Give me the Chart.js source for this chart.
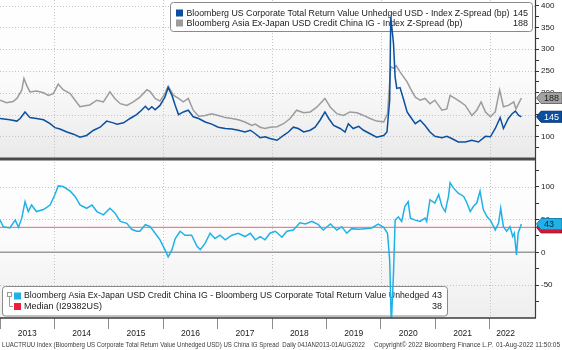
<!DOCTYPE html>
<html><head><meta charset="utf-8">
<script src="https://cdn.jsdelivr.net/npm/chart.js@4/dist/chart.umd.min.js"></script>
<style>html,body{margin:0;padding:0;background:#fff;}#wrap{width:562px;height:350px;position:relative;}</style>
</head><body><div id="wrap"><canvas id="c" width="562" height="350"></canvas></div>
<script>
// ---- data (decimal years) ----
const usDates = [2013.00,2013.18,2013.31,2013.37,2013.46,2013.55,2013.67,2013.80,2013.92,2014.01,2014.10,2014.23,2014.35,2014.47,2014.59,2014.72,2014.84,2014.96,2015.08,2015.15,2015.27,2015.39,2015.51,2015.60,2015.67,2015.73,2015.79,2015.85,2015.94,2016.03,2016.09,2016.16,2016.22,2016.28,2016.37,2016.46,2016.55,2016.65,2016.77,2016.89,2017.01,2017.14,2017.26,2017.38,2017.50,2017.60,2017.69,2017.78,2017.87,2017.96,2018.09,2018.21,2018.30,2018.39,2018.48,2018.58,2018.70,2018.79,2018.88,2018.97,2019.04,2019.13,2019.25,2019.34,2019.40,2019.49,2019.59,2019.68,2019.80,2019.92,2020.05,2020.11,2020.16,2020.18,2020.23,2020.26,2020.29,2020.35,2020.41,2020.48,2020.54,2020.63,2020.72,2020.81,2020.90,2020.99,2021.12,2021.21,2021.30,2021.42,2021.55,2021.67,2021.79,2021.92,2022.01,2022.10,2022.19,2022.25,2022.34,2022.41,2022.47,2022.53,2022.58];
const usSpread = [141,138,135,141,156,143,141,138,129,120,117,110,105,98,102,114,121,135,131,128,131,141,150,160,169,161,168,161,171,190,212,194,171,150,156,160,145,141,133,128,121,118,117,114,110,114,106,97,99,95,91,102,110,121,118,110,114,121,137,156,141,125,118,110,129,118,123,114,106,98,102,110,183,375,313,236,210,212,187,156,145,129,137,125,110,100,97,100,95,87,87,91,87,100,99,118,143,118,141,152,158,148,145];

const asiaDates = [2013.00,2013.12,2013.24,2013.31,2013.40,2013.44,2013.49,2013.55,2013.67,2013.80,2013.89,2013.98,2014.07,2014.16,2014.29,2014.38,2014.47,2014.56,2014.65,2014.78,2014.90,2015.02,2015.11,2015.21,2015.33,2015.45,2015.57,2015.70,2015.76,2015.85,2015.94,2016.03,2016.09,2016.19,2016.28,2016.37,2016.46,2016.55,2016.65,2016.77,2016.89,2017.01,2017.14,2017.26,2017.38,2017.50,2017.63,2017.69,2017.78,2017.87,2017.96,2018.09,2018.21,2018.33,2018.45,2018.58,2018.70,2018.82,2018.91,2018.97,2019.07,2019.19,2019.31,2019.43,2019.56,2019.68,2019.80,2019.92,2020.05,2020.12,2020.18,2020.23,2020.28,2020.35,2020.48,2020.54,2020.63,2020.72,2020.81,2020.90,2020.99,2021.12,2021.21,2021.27,2021.36,2021.46,2021.55,2021.67,2021.76,2021.84,2021.92,2022.01,2022.10,2022.18,2022.25,2022.34,2022.44,2022.48,2022.58];
const asiaSpread = [183,177,180,187,206,233,217,202,204,200,194,198,220,207,198,183,168,170,172,183,179,202,187,175,171,179,190,207,203,187,181,198,215,194,187,179,187,160,146,148,152,148,143,141,138,133,125,128,121,118,121,122,129,141,160,154,156,167,179,187,167,152,148,156,154,148,141,135,133,152,260,256,262,248,225,210,190,183,187,175,183,160,163,194,187,179,171,148,160,179,156,145,156,206,168,171,179,163,188];

const diffDates = [2013.00,2013.06,2013.18,2013.28,2013.34,2013.40,2013.46,2013.52,2013.58,2013.67,2013.80,2013.92,2014.01,2014.07,2014.16,2014.29,2014.38,2014.47,2014.59,2014.69,2014.78,2014.90,2015.02,2015.11,2015.21,2015.33,2015.42,2015.51,2015.57,2015.67,2015.76,2015.85,2015.94,2016.03,2016.09,2016.16,2016.22,2016.31,2016.40,2016.52,2016.62,2016.68,2016.77,2016.86,2016.95,2017.04,2017.14,2017.26,2017.38,2017.50,2017.60,2017.69,2017.78,2017.87,2017.96,2018.06,2018.18,2018.27,2018.39,2018.51,2018.61,2018.73,2018.85,2018.94,2019.07,2019.19,2019.28,2019.37,2019.46,2019.59,2019.71,2019.83,2019.95,2020.05,2020.12,2020.16,2020.19,2020.23,2020.26,2020.32,2020.38,2020.44,2020.50,2020.54,2020.63,2020.72,2020.81,2020.84,2020.90,2020.99,2021.06,2021.12,2021.18,2021.24,2021.27,2021.33,2021.42,2021.52,2021.58,2021.64,2021.70,2021.76,2021.82,2021.88,2021.95,2022.01,2022.10,2022.16,2022.20,2022.25,2022.31,2022.37,2022.42,2022.45,2022.49,2022.52,2022.58];
const diffSpread = [49,39,37,49,38,52,77,62,72,62,65,72,88,101,100,93,85,72,67,72,62,57,67,60,47,44,35,32,32,42,39,29,19,4,-7,4,21,32,26,26,9,4,14,29,21,26,19,26,29,24,29,19,24,19,29,32,23,32,34,45,43,47,42,34,43,34,39,29,36,35,36,37,43,38,29,-12,-110,-32,49,54,47,70,77,52,49,47,52,47,80,75,88,70,62,85,106,98,90,85,75,62,70,75,93,65,54,49,34,44,67,39,32,39,24,29,-4,29,43];

const medianValue = 38;
const years = [2013,2014,2015,2016,2017,2018,2019,2020,2021,2022];
const yearLabels = ['2013','2014','2015','2016','2017','2018','2019','2020','2021','2022'];
const topTickValues = [75,100,125,150,175,200,225,250,275,300,325,350,375,400];
const bottomTickValues = [-75,-50,-25,0,25,50,75,100,125];
const topRange = [48, 413];
const bottomRange = [-100, 142];
const xRange = [2013.0, 2022.83];

const seriesNames = [
  'Bloomberg US Corporate Total Return Value Unhedged USD - Index Z-Spread (bp)',
  'Bloomberg Asia Ex-Japan USD Credit China IG - Index Z-Spread (bp)',
  'Bloomberg Asia Ex-Japan USD Credit China IG - Bloomberg US Corporate Total Return Value Unhedged',
  'Median (I29382US)'
];
const footerTexts = [
  'LUACTRUU Index (Bloomberg US Corporate Total Return Value Unhedged USD) US China IG Spread  Daily 04JAN2013-01AUG2022',
  'Copyright\u00A9 2022 Bloomberg Finance L.P.',
  '01-Aug-2022 11:50:05'
];

const C_US = '#0b4f9f', C_ASIA = '#9c9c9c', C_DIFF = '#1fb2e8', C_MED = '#ee1d3f';
const FONT = '"Liberation Sans", Arial, sans-serif';

const pts = (xs, ys) => xs.map((x, i) => ({x, y: ys[i]}));

const lastDate = usDates[usDates.length - 1];
const labelPos = years.map(y => (Math.max(y, xRange[0]) + Math.min(y + 1, lastDate)) / 2);

function roundRect(ctx, x, y, w, h, r) {
  ctx.beginPath();
  ctx.moveTo(x + r, y);
  ctx.arcTo(x + w, y, x + w, y + h, r);
  ctx.arcTo(x + w, y + h, x, y + h, r);
  ctx.arcTo(x, y + h, x, y, r);
  ctx.arcTo(x, y, x + w, y, r);
  ctx.closePath();
}

function tag(ctx, xr, y, text, fill, stroke, color) {
  const x0 = xr + 1.5, x1 = xr + 6, x2 = 562, h = 5.5;
  ctx.beginPath();
  ctx.moveTo(x0, y); ctx.lineTo(x1, y - h); ctx.lineTo(x2, y - h); ctx.lineTo(x2, y + h); ctx.lineTo(x1, y + h); ctx.closePath();
  ctx.fillStyle = fill; ctx.fill();
  ctx.lineWidth = 1; ctx.strokeStyle = stroke; ctx.stroke();
  ctx.fillStyle = color; ctx.font = '9px ' + FONT; ctx.textAlign = 'left'; ctx.textBaseline = 'middle';
  ctx.fillText(text, x1 + 3, y + 0.5);
}

const bbg = {
  id: 'bbg',
  beforeDraw(chart) {
    const {ctx, chartArea: a, scales} = chart;
    ctx.save();
    ctx.fillStyle = '#fff'; ctx.fillRect(0, 0, chart.width, chart.height);
    [[scales.y, '#e9e9e9'], [scales.y2, '#eeeeee']].forEach(([s, c]) => {
      const g = ctx.createLinearGradient(0, s.top, 0, s.bottom);
      g.addColorStop(0, '#ffffff'); g.addColorStop(0.5, '#fbfbfb'); g.addColorStop(1, c);
      ctx.fillStyle = g; ctx.fillRect(a.left, s.top, a.right - a.left, s.bottom - s.top);
    });
    ctx.restore();
  },
  beforeDatasetsDraw(chart) {
    const {ctx, chartArea: a, scales} = chart;
    const x = scales.x, yT = scales.y, yB = scales.y2;
    ctx.save();
    ctx.strokeStyle = '#c4c4c4'; ctx.lineWidth = 1; ctx.setLineDash([1, 2]);
    ctx.beginPath();
    years.forEach(yr => {
      if (yr % 2 === 0) { const px = Math.round(x.getPixelForValue(yr)) + 0.5; ctx.moveTo(px, a.top); ctx.lineTo(px, a.bottom); }
    });
    topTickValues.forEach(v => { if (v % 50 === 0) { const py = Math.round(yT.getPixelForValue(v)) + 0.5; ctx.moveTo(a.left, py); ctx.lineTo(a.right, py); } });
    bottomTickValues.forEach(v => { if (v % 50 === 0 && v !== 0) { const py = Math.round(yB.getPixelForValue(v)) + 0.5; ctx.moveTo(a.left, py); ctx.lineTo(a.right, py); } });
    ctx.stroke();
    ctx.setLineDash([]);
    ctx.strokeStyle = '#9a9a9a'; ctx.lineWidth = 1.5;
    const pz = yB.getPixelForValue(0);
    ctx.beginPath(); ctx.moveTo(a.left, pz); ctx.lineTo(a.right, pz); ctx.stroke();

    // top legend
    ctx.fillStyle = '#fff'; ctx.strokeStyle = '#8a8a8a'; ctx.lineWidth = 1;
    roundRect(ctx, 170.5, 2.5, 362, 29, 3); ctx.fill(); ctx.stroke();
    ctx.fillStyle = C_US; ctx.fillRect(176, 9.5, 7, 7);
    ctx.fillStyle = C_ASIA; ctx.fillRect(176, 19.5, 7, 7);
    ctx.fillStyle = '#1a1a1a'; ctx.font = '9px ' + FONT; ctx.textBaseline = 'middle';
    ctx.textAlign = 'left';
    ctx.fillText(seriesNames[0], 186.5, 13.5, 323);
    ctx.fillText(seriesNames[1], 186.5, 23.5, 276);
    ctx.textAlign = 'right';
    ctx.fillText(String(usSpread[usSpread.length - 1]), 528, 13.5);
    ctx.fillText(String(asiaSpread[asiaSpread.length - 1]), 528, 23.5);

    // bottom legend
    ctx.fillStyle = '#fff'; ctx.strokeStyle = '#8a8a8a';
    roundRect(ctx, 2.5, 286.5, 445, 29.5, 3); ctx.fill(); ctx.stroke();
    ctx.strokeStyle = '#9a9a9a'; ctx.lineWidth = 1;
    ctx.strokeRect(7.5, 292.5, 4, 4);
    ctx.beginPath(); ctx.moveTo(9.5, 296.5); ctx.lineTo(9.5, 306.5); ctx.lineTo(13, 306.5); ctx.stroke();
    ctx.fillStyle = C_DIFF; ctx.fillRect(14, 292.5, 7, 7);
    ctx.fillStyle = C_MED; ctx.fillRect(14, 303, 7, 7);
    ctx.fillStyle = '#1a1a1a'; ctx.textAlign = 'left';
    ctx.fillText(seriesNames[2], 24, 296, 405);
    ctx.fillText(seriesNames[3], 24, 306.5);
    ctx.textAlign = 'right';
    ctx.fillText(String(diffSpread[diffSpread.length - 1]), 442, 296);
    ctx.fillText(String(medianValue), 442, 306.5);
    ctx.restore();
  },
  afterDatasetsDraw(chart) {
    const {ctx, chartArea: a, scales} = chart;
    ctx.save();
    ctx.strokeStyle = '#4a4a4a'; ctx.lineWidth = 3;
    ctx.beginPath(); ctx.moveTo(a.left, scales.y.bottom); ctx.lineTo(a.right, scales.y.bottom); ctx.stroke();
    ctx.strokeStyle = '#3a3a3a'; ctx.lineWidth = 1.5;
    ctx.beginPath(); ctx.moveTo(a.left, a.bottom); ctx.lineTo(a.right + 1, a.bottom); ctx.stroke();
    ctx.lineWidth = 1.2;
    ctx.beginPath(); ctx.moveTo(a.right + 0.5, a.top); ctx.lineTo(a.right + 0.5, a.bottom); ctx.stroke();
    ctx.restore();
  },
  afterDraw(chart) {
    const {ctx, chartArea: a, scales} = chart;
    ctx.save();
    tag(ctx, a.right, scales.y.getPixelForValue(asiaSpread[asiaSpread.length - 1]), String(asiaSpread[asiaSpread.length - 1]), '#a3a3a3', '#6e6e6e', '#1a1a1a');
    tag(ctx, a.right, scales.y.getPixelForValue(usSpread[usSpread.length - 1]), String(usSpread[usSpread.length - 1]), C_US, '#07346b', '#ffffff');
    tag(ctx, a.right, scales.y2.getPixelForValue(medianValue), String(medianValue), '#e5102e', '#8a0a1a', '#ffffff');
    tag(ctx, a.right, scales.y2.getPixelForValue(diffSpread[diffSpread.length - 1]), String(diffSpread[diffSpread.length - 1]), C_DIFF, '#1582b0', '#0a2236');
    ctx.fillStyle = '#3a3a3a'; ctx.font = '6.5px ' + FONT; ctx.textBaseline = 'middle'; ctx.textAlign = 'left';
    ctx.fillText(footerTexts[0], 2, 345.5, 363);
    ctx.fillText(footerTexts[1], 374, 345.5, 119);
    ctx.fillText(footerTexts[2], 496, 345.5, 64);
    ctx.restore();
  }
};

function zeroPad(s) { s.paddingTop = 0; s.paddingBottom = 0; s.paddingLeft = 0; s.paddingRight = 0; }

const yCommon = (ticksArr) => ({
  type: 'linear', position: 'right', stack: 'panels', stackWeight: 1,
  afterBuildTicks: s => { s.ticks = ticksArr.map(v => ({value: v})); },
  afterFit: s => { s.width = 27; zeroPad(s); },
  border: {display: false},
  grid: {drawOnChartArea: false, drawTicks: true, tickLength: 4, tickColor: '#333', tickWidth: 1},
  ticks: {
    autoSkip: false, padding: 2, color: '#1a1a1a', font: {family: FONT, size: 8},
    callback: v => (v % 50 === 0 ? String(v) : '')
  }
});

const yTop = Object.assign(yCommon(topTickValues), {min: topRange[0], max: topRange[1]});
const yBot = Object.assign(yCommon(bottomTickValues), {min: bottomRange[0], max: bottomRange[1]});

new Chart(document.getElementById('c'), {
  type: 'line',
  data: {
    datasets: [
      {data: pts(usDates, usSpread), yAxisID: 'y', borderColor: C_US, borderWidth: 1.5, pointRadius: 0, tension: 0},
      {data: pts(asiaDates, asiaSpread), yAxisID: 'y', borderColor: C_ASIA, borderWidth: 1.5, pointRadius: 0, tension: 0},
      {data: pts(diffDates, diffSpread), yAxisID: 'y2', borderColor: C_DIFF, borderWidth: 1.5, pointRadius: 0, tension: 0},
      {data: [{x: xRange[0], y: medianValue}, {x: xRange[1], y: medianValue}], yAxisID: 'y2', borderColor: 'rgba(236,60,80,0.8)', borderWidth: 1, pointRadius: 0}
    ]
  },
  options: {
    responsive: false, animation: false, devicePixelRatio: 1,
    layout: {padding: {left: 0, right: 0, top: 0, bottom: 11}},
    plugins: {legend: {display: false}, tooltip: {enabled: false}, title: {display: false}},
    scales: {
      x: {
        type: 'linear', min: xRange[0], max: xRange[1],
        afterBuildTicks: s => {
          const t = [];
          years.forEach((y, i) => { if (y >= xRange[0]) t.push({value: y}); t.push({value: labelPos[i]}); });
          s.ticks = t.sort((p, q) => p.value - q.value);
        },
        afterFit: s => { s.height = 21; zeroPad(s); },
        border: {display: false},
        grid: {
          drawOnChartArea: false, drawTicks: true, tickLength: 11,
          tickColor: c => (c.tick && Number.isInteger(c.tick.value) ? '#8c8c8c' : 'rgba(0,0,0,0)')
        },
        ticks: {
          autoSkip: false, maxRotation: 0, padding: 0, color: '#1a1a1a', font: {family: FONT, size: 8.5},
          callback: function (v) { const i = labelPos.indexOf(v); return i >= 0 ? yearLabels[i] : ''; }
        }
      },
      y: yTop,
      y2: yBot
    }
  },
  plugins: [bbg]
});
</script>
</body></html>
